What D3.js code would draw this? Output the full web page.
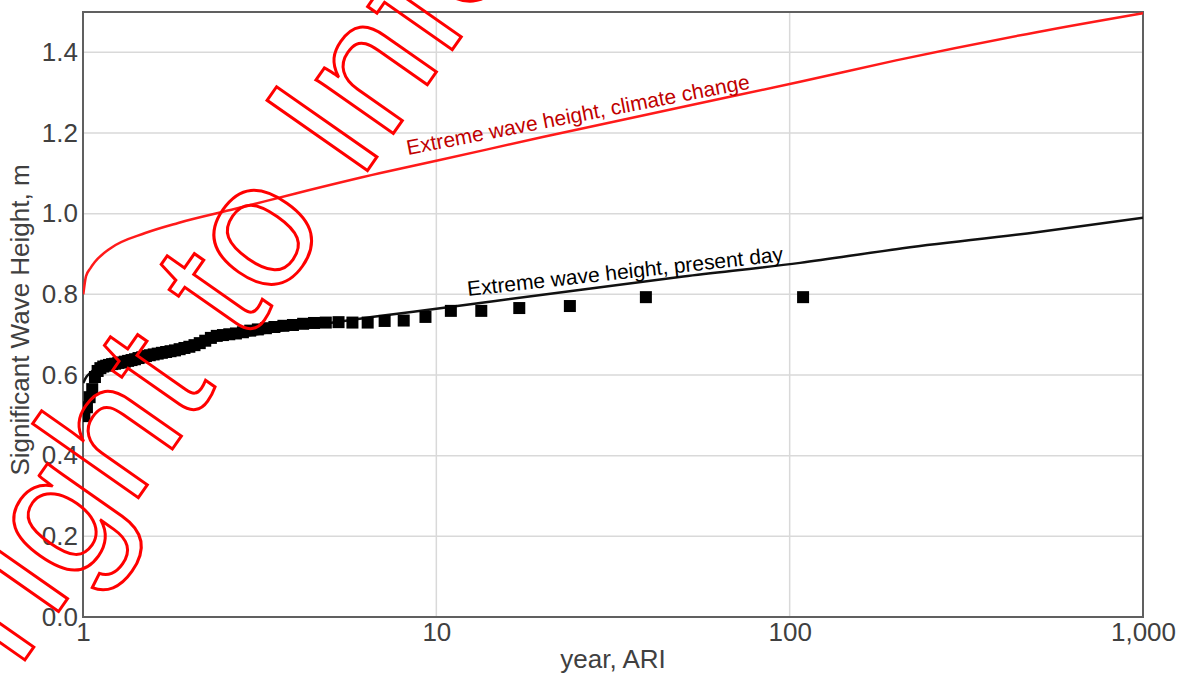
<!DOCTYPE html>
<html>
<head>
<meta charset="utf-8">
<script src="https://cdn.jsdelivr.net/npm/d3@7"></script>
<style>
  body { margin: 0; background: #fff; }
  text { font-family: "Liberation Sans", Arial, sans-serif; }
</style>
</head>
<body>
<div id="chart"></div>
<script>
// plotted annual maxima (ARI in years, height in m)
var pointAri = [109.14, 39.179, 23.875, 17.169, 13.404, 10.993, 9.317, 8.085, 7.140, 6.393,
  5.788, 5.287, 4.866, 4.507, 4.198, 3.928, 3.691, 3.481, 3.293, 3.125,
  2.973, 2.835, 2.709, 2.594, 2.489, 2.391, 2.301, 2.218, 2.140, 2.068,
  2.000, 1.937, 1.877, 1.821, 1.769, 1.719, 1.672, 1.627, 1.585, 1.545,
  1.507, 1.471, 1.436, 1.403, 1.372, 1.342, 1.313, 1.285, 1.259, 1.233,
  1.209, 1.185, 1.163, 1.141, 1.120, 1.100, 1.081, 1.062, 1.044, 1.026, 1.009];
var pointHeight = [0.793, 0.793, 0.771, 0.766, 0.759, 0.759, 0.744, 0.735, 0.734, 0.730,
  0.730, 0.731, 0.730, 0.729, 0.727, 0.724, 0.722, 0.719, 0.716, 0.713,
  0.710, 0.706, 0.703, 0.701, 0.699, 0.697, 0.692, 0.685, 0.679, 0.674,
  0.670, 0.667, 0.664, 0.661, 0.659, 0.657, 0.655, 0.653, 0.651, 0.649,
  0.647, 0.644, 0.642, 0.639, 0.637, 0.635, 0.633, 0.631, 0.630, 0.628,
  0.627, 0.625, 0.623, 0.621, 0.617, 0.610, 0.595, 0.565, 0.545, 0.520, 0.498];

// fitted curves
var curveAri = [1.002, 1.02, 1.05, 1.08, 1.2, 1.5, 1.86, 2.7, 4, 6.9, 10, 20, 50, 107, 200, 500, 1000];
var climateHeight = [0.80, 0.845, 0.865, 0.88, 0.915, 0.952, 0.977, 1.012, 1.05, 1.10, 1.131, 1.19, 1.265, 1.327, 1.38, 1.45, 1.497];
var presentHeight = [0.58, 0.594, 0.606, 0.615, 0.635, 0.657, 0.672, 0.693, 0.716, 0.746, 0.764, 0.799, 0.844, 0.878, 0.912, 0.954, 0.99];

var xTicks = [1, 10, 100, 1000];
var yTicks = [0, 0.2, 0.4, 0.6, 0.8, 1.0, 1.2, 1.4];

var width = 1184, height = 677;
var margin = {top: 12, right: 41, bottom: 60, left: 83};
var w = width - margin.left - margin.right;
var h = height - margin.top - margin.bottom;

var x = d3.scaleLog().domain([1, 1000]).range([0, w]);
var y = d3.scaleLinear().domain([0, 1.5]).range([h, 0]);

var svg = d3.select("#chart").append("svg")
    .attr("width", width)
    .attr("height", height);

var g = svg.append("g")
    .attr("transform", "translate(" + margin.left + "," + margin.top + ")");

g.append("clipPath").attr("id", "plotclip")
  .append("rect").attr("width", w).attr("height", h);

// grid
g.selectAll(".hgrid").data(yTicks).enter().append("line")
    .attr("x1", 0).attr("x2", w)
    .attr("y1", function(d) { return y(d); })
    .attr("y2", function(d) { return y(d); })
    .attr("stroke", "#d9d9d9").attr("stroke-width", 1.5);
g.selectAll(".vgrid").data(xTicks).enter().append("line")
    .attr("y1", 0).attr("y2", h)
    .attr("x1", function(d) { return x(d); })
    .attr("x2", function(d) { return x(d); })
    .attr("stroke", "#d9d9d9").attr("stroke-width", 1.5);

// frame
g.append("rect")
    .attr("width", w).attr("height", h)
    .attr("fill", "none").attr("stroke", "#606060").attr("stroke-width", 2);

// axes
var yAxis = g.append("g")
    .call(d3.axisLeft(y).tickValues(yTicks).tickFormat(d3.format(".1f")).tickSize(0).tickPadding(5));
var xAxis = g.append("g")
    .attr("transform", "translate(0," + h + ")")
    .call(d3.axisBottom(x).tickValues(xTicks).tickFormat(d3.format(",")).tickSize(0).tickPadding(6));
[yAxis, xAxis].forEach(function(a) {
  a.select(".domain").remove();
  a.selectAll("text").attr("font-size", 26).attr("fill", "#404040")
    .style("font-family", "'Liberation Sans', Arial, sans-serif");
});

// titles
svg.append("text")
    .attr("x", margin.left + w / 2).attr("y", 668)
    .attr("text-anchor", "middle").attr("font-size", 26).attr("fill", "#404040")
    .text("year, ARI");
svg.append("text")
    .attr("transform", "translate(29," + 320 + ") rotate(-90)")
    .attr("text-anchor", "middle").attr("font-size", 26).attr("fill", "#404040")
    .text("Significant Wave Height, m");

var plot = g.append("g").attr("clip-path", "url(#plotclip)");

var line = d3.line()
    .x(function(d) { return x(d[0]); })
    .y(function(d) { return y(d[1]); })
    .curve(d3.curveMonotoneX);

plot.append("path")
    .datum(d3.zip(curveAri, presentHeight))
    .attr("d", line)
    .attr("fill", "none").attr("stroke", "#111").attr("stroke-width", 2.5);

var sq = 12;
plot.selectAll(".pt").data(d3.zip(pointAri, pointHeight)).enter().append("rect")
    .attr("x", function(d) { return x(d[0]) - sq / 2; })
    .attr("y", function(d) { return y(d[1]) - sq / 2; })
    .attr("width", sq).attr("height", sq)
    .attr("fill", "#000");

plot.append("path")
    .datum(d3.zip(curveAri, climateHeight))
    .attr("d", line)
    .attr("fill", "none").attr("stroke", "#ff1a1a").attr("stroke-width", 2.5);

// labels along curves
svg.append("text")
    .attr("transform", "translate(408,155) rotate(-11)")
    .attr("font-size", 21).attr("fill", "#c00000")
    .text("Extreme wave height, climate change");
svg.append("text")
    .attr("transform", "translate(468,296) rotate(-6.3)")
    .attr("font-size", 21).attr("fill", "#000")
    .text("Extreme wave height, present day");

// watermark
var wm = svg.append("g")
    .attr("transform", "translate(358,184) rotate(-55)")
    .attr("font-size", 178).attr("fill", "none")
    .attr("stroke", "#ff0000").attr("stroke-width", 3);
wm.append("text").attr("x", -49).attr("text-anchor", "end").text("Copyright to");
wm.append("text").attr("x", 0).text("Info");
</script>
</body>
</html>
